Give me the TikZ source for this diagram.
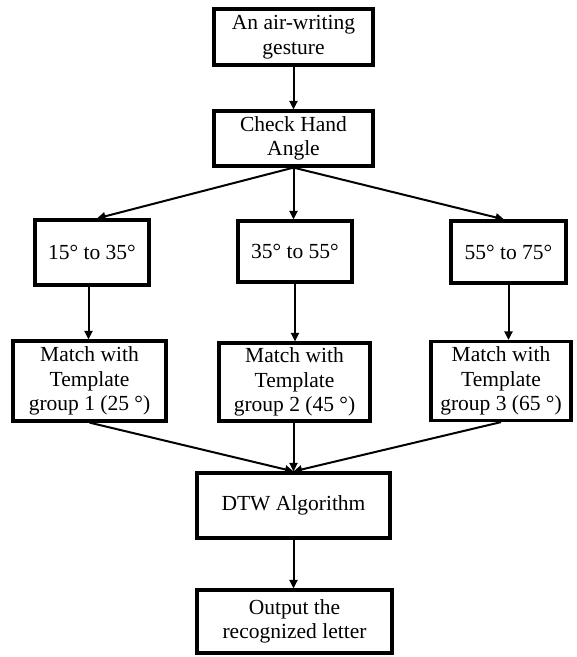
\documentclass[tikz,border=0pt]{standalone}
\usepackage{fontspec}
\setmainfont{Liberation Serif}
\usetikzlibrary{arrows.meta,calc}
\begin{document}
\begin{tikzpicture}[x=1pt,y=-1pt,
  box/.style={draw, line width=3.2pt, inner sep=0pt, align=center,
    font=\fontsize{21.5}{24.5}\selectfont},
  flow/.style={line width=2pt, -{Triangle[length=8.5pt,width=8pt]}}]
  \useasboundingbox (0,0) rectangle (577,657);

  % boxes
  \node[box, minimum width=159, minimum height=56] (g) at (293.5,37) {An air-writing\\gesture};
  \node[box, minimum width=159, minimum height=55] (c) at (293.5,138.5) {Check Hand\\Angle};
  \node[box, minimum width=114, minimum height=65] (r1) at (92,252.5) {15° to 35°};
  \node[box, minimum width=114, minimum height=61] (r2) at (295,251.5) {35° to 55°};
  \node[box, minimum width=115, minimum height=62] (r3) at (508.5,252) {55° to 75°};
  \node[box, minimum width=153, minimum height=80] (m1) at (89.5,381) {Match with\\Template\\group 1 (25 °)};
  \node[box, minimum width=151, minimum height=78] (m2) at (294.5,382) {Match with\\Template\\group 2 (45 °)};
  \node[box, minimum width=140, minimum height=79] (m3) at (501,381) {Match with\\Template\\group 3 (65 °)};
  \node[box, minimum width=193, minimum height=65] (d) at (293.5,505.5) {DTW Algorithm};
  \node[box, minimum width=195, minimum height=63] (o) at (294.5,621.5) {Output the\\recognized letter};

  % connectors
  \draw[flow] (g.south) -- (c.north);
  \draw[flow] (c.south) -- ($(r1.north)+(5,0)$);
  \draw[flow] (c.south) -- (c.south |- r2.north);
  \draw[flow] (c.south) -- ($(r3.north)+(-4.5,0)$);
  \draw[flow] ($(r1.south)+(-3.5,0)$) -- ($(m1.north)+(-1,0)$);
  \draw[flow] (r2.south) -- (r2.south |- m2.north);
  \draw[flow] (r3.south) -- (r3.south |- m3.north);
  \draw[flow] (m1.south) -- (d.north);
  \draw[flow] (m2.south -| d.north) -- (d.north);
  \draw[flow] (m3.south) -- (d.north);
  \draw[flow] (d.south) -- (d.south |- o.north);
\end{tikzpicture}
\end{document}
